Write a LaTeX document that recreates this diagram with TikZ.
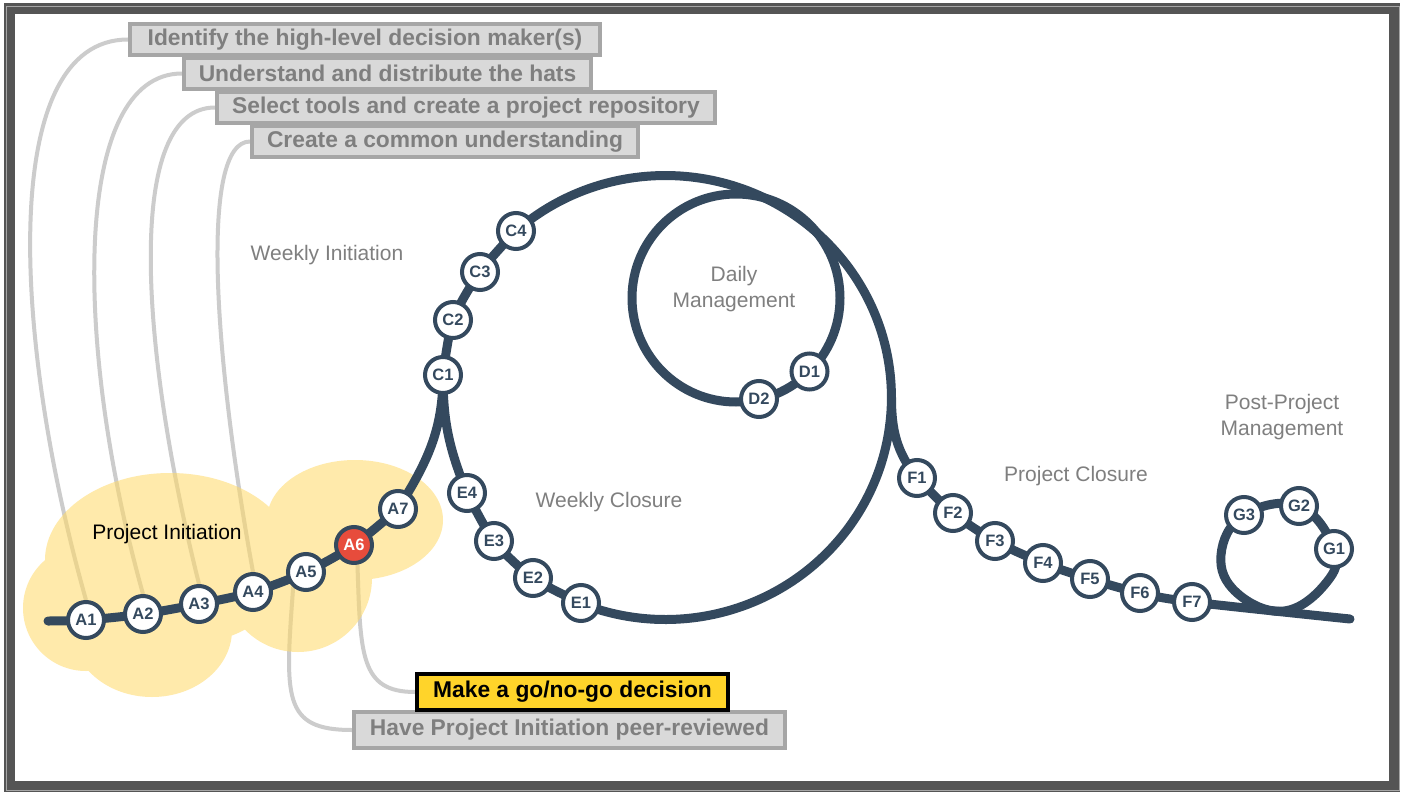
\documentclass[tikz,border=0pt]{standalone}
\usepackage{fontspec}
\setmainfont{Liberation Sans}
\setsansfont{Liberation Sans}
\usetikzlibrary{positioning, backgrounds}
\definecolor{croute}{HTML}{34495E}
\definecolor{cred}{HTML}{E74C3C}
\definecolor{cyellow}{HTML}{FFD42A}
\definecolor{cblob}{HTML}{FFD966}
\definecolor{clink}{HTML}{CCCCCC}
\definecolor{cboxfill}{HTML}{D9D9D9}
\definecolor{cboxline}{HTML}{A6A6A6}
\definecolor{cgreytext}{HTML}{7F7F7F}
\definecolor{cframe}{HTML}{555555}
\tikzset{
  every picture/.style={font=\sffamily},
  station/.style={circle, draw=croute, fill=white, line width=4pt, minimum size=36pt, inner sep=0pt, text=croute, font=\sffamily\bfseries\fontsize{16.5}{18}\selectfont},
  route/.style={draw=croute, line width=9pt},
  link/.style={draw=clink, line width=4pt},
  taskbox/.style={draw=cboxline, fill=cboxfill, line width=4pt, text=cgreytext, inner xsep=8pt, inner ysep=2pt, minimum height=31pt, anchor=west, font=\sffamily\bfseries\fontsize{22.8}{26}\selectfont},
  gobox/.style={taskbox, draw=black, fill=cyellow, text=black},
  phase/.style={text=cgreytext, align=center, font=\sffamily\fontsize{21}{26}\selectfont},
  blob/.style={fill=cblob, fill opacity=0.55},
}

\begin{document}
\begin{tikzpicture}[x=1pt, y=1pt]
  \useasboundingbox (0,0) rectangle (1403,-792);

  % stations along the route
  \foreach \n/\x/\y in {A1/86/-620, A2/143/-614, A3/199/-604, A4/253/-592, A5/306/-572, A7/398/-509,
      C1/443/-375, C2/453/-320, C3/480/-272, C4/516/-231,
      D1/809.5/-371.5, D2/759/-399,
      E1/581/-603, E2/533/-578, E3/494/-541, E4/467/-493,
      F1/917/-478, F2/953/-513, F3/995/-541, F4/1043/-563, F5/1090/-579, F6/1140/-593, F7/1192/-602,
      G1/1334/-549, G2/1299/-506, G3/1244/-515} {
    \node[station] (\n) at (\x,\y) {\n};
  }
  \node[station, fill=cred, text=white] (A6) at (354,-545) {A6};

  % phase names
  \node[phase] (wi) at (327,-255) {Weekly Initiation};
  \node[phase, text=black] (pi) at (167,-534) {Project Initiation};
  \node[phase] (wc) at (609,-502) {Weekly Closure};
  \node[phase] (dm) at (734,-289) {Daily\\Management};
  \node[phase] (pc) at (1076,-476) {Project Closure};
  \node[phase] (ppm) at (1282,-417) {Post-Project\\Management};

  % activity boxes
  \node[taskbox, minimum width=470pt] (t1) at (128,-39.5) {Identify the high-level decision maker(s)};
  \node[taskbox, minimum width=407pt] (t2) at (182,-73.5) {Understand and distribute the hats};
  \node[taskbox, minimum width=498pt] (t3) at (215,-107.5) {Select tools and create a project repository};
  \node[taskbox, minimum width=386pt] (t4) at (250,-141.5) {Create a common understanding};
  \node[taskbox, minimum width=431pt, minimum height=36pt] (have) at (352,-730) {Have Project Initiation peer-reviewed};
  \node[gobox, minimum width=311pt, minimum height=36pt] (go) at (415,-692) {Make a go/no-go decision};

  \begin{scope}[on background layer]
    \fill[white] (0,0) rectangle (1403,-792);
    % grey links from boxes to stations
    \draw[link] (t1.west) .. controls +(-130,0) and +(-74,262) .. (A1.north);
    \draw[link] (t2.west) .. controls +(-110,0) and +(-70,250) .. (A2.north);
    \draw[link] (t3.west) .. controls +(-90,0) and +(-60,240) .. (A3.north);
    \draw[link] (t4.west) .. controls +(-50,0) and +(-40,220) .. (A4.north);
    \draw[link] (A5.-130) .. controls +(-8,-110) and +(-70,0) .. (have.west);
    \draw[link] (A6.-80) .. controls +(3,-90) and +(-55,0) .. (go.west);
    % project initiation cloud
    \fill[blob] (86,-608) circle[radius=63] (170,-560) ellipse[x radius=125, y radius=87]
      (355,-520) ellipse[x radius=88, y radius=60] (298,-578) circle[radius=74]
      (152,-630) ellipse[x radius=80, y radius=67];
    % the route
    \draw[route, line cap=round] plot[smooth, tension=0.5] coordinates {(48,-621) (A1.center) (A2.center) (A3.center) (A4.center) (A5.center) (A6.center) (A7.center)};
    \draw[route] (A7.center) to[out=58,in=-90] (C1.center);
    \draw[route] plot[smooth, tension=0.5] coordinates {(C1.center) (C2.center) (C3.center) (C4.center)};
    \draw[route] (C4.center) arc[start angle=131.4, end angle=-111.5, x radius=226, y radius=222];
    \draw[route] plot[smooth, tension=0.5] coordinates {(E1.center) (E2.center) (E3.center) (E4.center)};
    \draw[route] (E4.center) to[out=112,in=-90] (C1.center);
    \draw[route] (736,-298) circle[radius=104];
    \coordinate (fork) at (891.5,-397.5);
    \draw[route] (fork) to[out=-90,in=128] (F1.center);
    \draw[route, line cap=round] plot[smooth, tension=0.5] coordinates {(F1.center) (F2.center) (F3.center) (F4.center) (F5.center) (F6.center) (F7.center) (1350,-619)};
    \draw[route] plot[smooth cycle, tension=0.7] coordinates {(G1.center) (1326,-583) (1284,-611) (1237,-593) (1221,-555) (G3.center) (G2.center)};
  \end{scope}

  % frame
  \draw[cframe, line width=11pt] (9,-9) rectangle (1394.5,-786.5);
  \draw[black!35, line width=1pt] (6.5,-6.5) rectangle (1399,-790);
\end{tikzpicture}
\end{document}
